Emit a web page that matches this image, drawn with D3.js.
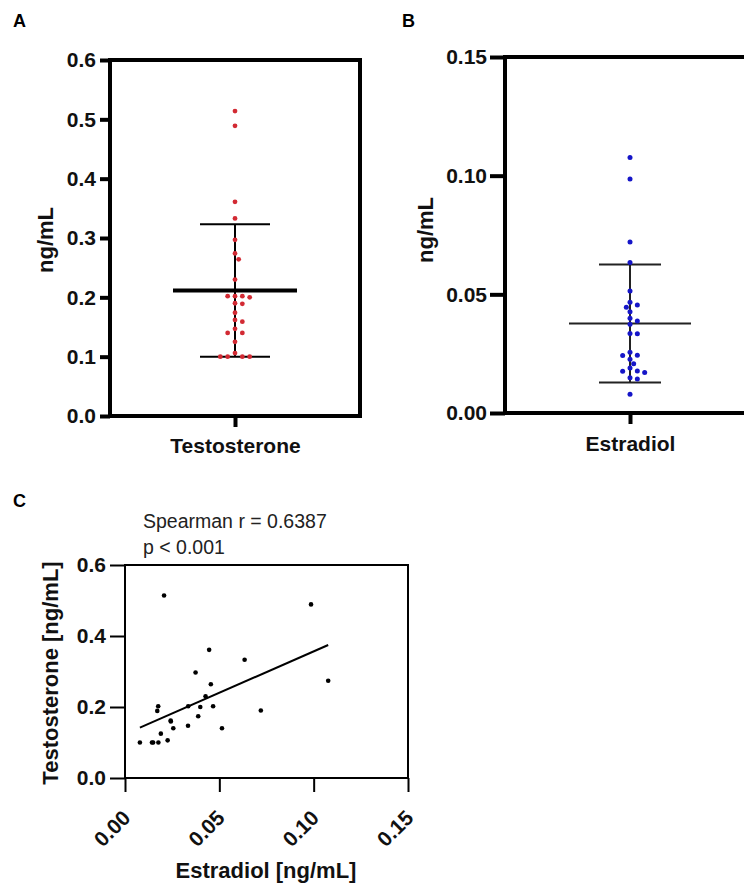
<!DOCTYPE html>
<html>
<head>
<meta charset="utf-8">
<script src="https://cdn.jsdelivr.net/npm/d3@7"></script>
<style>
body { margin: 0; background: #fff; }
svg { display: block; font-family: "Liberation Sans", Arial, sans-serif; }
</style>
</head>
<body>
<svg width="744" height="886"></svg>
<script>
// one value per subject, same order in both arrays (panel C pairs them)
var testosterone = [0.514, 0.489, 0.361, 0.333, 0.297, 0.274, 0.264, 0.230, 0.202, 0.189, 0.202, 0.200, 0.202,
                    0.190, 0.174, 0.162, 0.159, 0.147, 0.140, 0.140, 0.125, 0.106, 0.100, 0.100, 0.100, 0.100]
var estradiol = [0.0207, 0.0986, 0.0446, 0.0634, 0.0374, 0.1077, 0.0455, 0.0427, 0.0176, 0.0171, 0.0335, 0.0399, 0.0467,
                 0.0720, 0.0388, 0.0242, 0.0243, 0.0334, 0.0256, 0.0514, 0.0190, 0.0226, 0.0079, 0.0149, 0.0177, 0.0143]

var tTicks = [0, 0.1, 0.2, 0.3, 0.4, 0.5, 0.6]
var eTicks = [0, 0.05, 0.10, 0.15]
var cYTicks = [0, 0.2, 0.4, 0.6]
var cXTicks = [0, 0.05, 0.10, 0.15]
var statLines = ["Spearman r = 0.6387", "p < 0.001"]

var svg = d3.select("svg")

// simple beeswarm: offsets in half-steps, first free slot wins
function swarm(vals, y, step, minDist) {
    var placed = []
    var off = new Array(vals.length)
    var order = d3.range(vals.length).sort((a, b) => vals[b] - vals[a])
    order.forEach(i => {
        var py = y(vals[i])
        for (var k = 0; k < 60; k++) {
            var dx = (k % 2 ? 1 : -1) * Math.ceil(k / 2) * step
            if (placed.every(p => Math.hypot(p.x - dx, p.y - py) >= minDist)) {
                off[i] = dx
                placed.push({x: dx, y: py})
                break
            }
        }
    })
    return off
}

function dotPanel(o) {
    var g = svg.append("g")
    var y = d3.scaleLinear().domain([0, d3.max(o.ticks)]).range([o.bottom, o.top])
    var x = d3.scalePoint().domain([o.name]).range([o.left, o.right]).padding(0.5)
    var cx = x(o.name)

    g.append("rect")
        .attr("x", o.left).attr("y", o.top)
        .attr("width", o.right - o.left).attr("height", o.bottom - o.top)
        .attr("fill", "none").attr("stroke", "#000").attr("stroke-width", 4)

    var ya = g.append("g")
        .attr("transform", "translate(" + o.left + ",0)")
        .call(d3.axisLeft(y).tickValues(o.ticks).tickFormat(d3.format(o.fmt)).tickSize(o.tickLen).tickPadding(o.pad))
    ya.select(".domain").remove()
    ya.selectAll("line").attr("stroke-width", 4)
    ya.selectAll("text").attr("font-size", 21).attr("font-weight", "bold").attr("fill", "#111")

    var xa = g.append("g")
        .attr("transform", "translate(0," + o.bottom + ")")
        .call(d3.axisBottom(x).tickSize(11).tickPadding(o.xPad))
    xa.select(".domain").remove()
    xa.selectAll("line").attr("stroke-width", 4)
    xa.selectAll("text").attr("font-size", 21).attr("font-weight", "bold").attr("fill", "#111")

    g.append("text")
        .attr("transform", "translate(" + o.labelX + "," + o.labelY + ") rotate(-90)")
        .attr("text-anchor", "middle")
        .attr("font-size", 22).attr("font-weight", "bold").attr("fill", "#111")
        .text("ng/mL")

    g.append("text")
        .attr("x", o.tagX).attr("y", 27)
        .attr("font-size", 18).attr("font-weight", "bold")
        .text(o.tag)

    var m = d3.mean(o.values), sd = d3.deviation(o.values)

    g.append("line")
        .attr("x1", cx).attr("x2", cx).attr("y1", y(m - sd)).attr("y2", y(m + sd))
        .attr("stroke", o.lineColor).attr("stroke-width", 2)
    g.selectAll(".cap").data([m - sd, m + sd]).enter().append("line")
        .attr("class", "cap")
        .attr("x1", cx - o.capW).attr("x2", cx + o.capW)
        .attr("y1", d => y(d)).attr("y2", d => y(d))
        .attr("stroke", o.lineColor).attr("stroke-width", 2)
    g.append("line")
        .attr("x1", cx - o.meanW).attr("x2", cx + o.meanW)
        .attr("y1", y(m)).attr("y2", y(m))
        .attr("stroke", o.lineColor).attr("stroke-width", o.meanStroke)

    var off = swarm(o.values, y, o.step, o.minDist)
    g.selectAll(".dot").data(o.values).enter().append("circle")
        .attr("class", "dot")
        .attr("cx", (d, i) => cx + off[i])
        .attr("cy", d => y(d))
        .attr("r", o.r)
        .attr("fill", o.color)
}

dotPanel({
    name: "Testosterone", values: testosterone, ticks: tTicks, fmt: ".1f",
    left: 110, right: 360, top: 60, bottom: 416, tickLen: 10, pad: 4, xPad: 11,
    labelX: 53, labelY: 240, tag: "A", tagX: 13,
    color: "#d22a33", lineColor: "#000", meanW: 62, capW: 35, meanStroke: 4,
    step: 3.67, minDist: 6, r: 2.4
})

dotPanel({
    name: "Estradiol", values: estradiol, ticks: eTicks, fmt: ".2f",
    left: 505, right: 755, top: 57, bottom: 413, tickLen: 15, pad: 3, xPad: 12,
    labelX: 433, labelY: 230, tag: "B", tagX: 402,
    color: "#1515c8", lineColor: "#222", meanW: 61, capW: 31, meanStroke: 2,
    step: 3.67, minDist: 5.2, r: 2.5
})

// panel C: scatter with linear fit
var gc = svg.append("g")
var xC = d3.scaleLinear().domain([0, 0.15]).range([125, 408])
var yC = d3.scaleLinear().domain([0, 0.6]).range([778, 565])

gc.append("rect")
    .attr("x", 125).attr("y", 565).attr("width", 283).attr("height", 213)
    .attr("fill", "none").attr("stroke", "#000").attr("stroke-width", 2)

var yAx = gc.append("g").attr("transform", "translate(125,0)")
    .call(d3.axisLeft(yC).tickValues(cYTicks).tickFormat(d3.format(".1f")).tickSize(15).tickPadding(4))
yAx.select(".domain").remove()
yAx.selectAll("line").attr("stroke-width", 2)
yAx.selectAll("text").attr("font-size", 21).attr("font-weight", "bold").attr("fill", "#111")

var xAx = gc.append("g").attr("transform", "translate(0,778)")
    .call(d3.axisBottom(xC).tickValues(cXTicks).tickFormat(d3.format(".2f")).tickSize(14))
xAx.select(".domain").remove()
xAx.selectAll("line").attr("stroke-width", 2)
xAx.selectAll("text")
    .attr("font-size", 21).attr("font-weight", "bold").attr("fill", "#111")
    .attr("x", 0).attr("y", 0).attr("dy", "0.35em")
    .attr("text-anchor", "end")
    .attr("transform", "translate(1,36) rotate(-45)")

gc.append("text")
    .attr("transform", "translate(58,673) rotate(-90)")
    .attr("text-anchor", "middle")
    .attr("font-size", 22).attr("font-weight", "bold").attr("fill", "#111")
    .text("Testosterone [ng/mL]")

gc.append("text")
    .attr("x", 266).attr("y", 878)
    .attr("text-anchor", "middle")
    .attr("font-size", 22).attr("font-weight", "bold").attr("fill", "#111")
    .text("Estradiol [ng/mL]")

gc.append("text").attr("x", 13).attr("y", 507)
    .attr("font-size", 18).attr("font-weight", "bold").text("C")

gc.selectAll(".stat").data(statLines).enter().append("text")
    .attr("class", "stat")
    .attr("x", 143).attr("y", (d, i) => 528 + i * 26)
    .attr("font-size", 19.5).attr("fill", "#222")
    .text(d => d)

// least squares fit over the observed estradiol range
var pairs = estradiol.map((e, i) => [e, testosterone[i]])
var mE = d3.mean(estradiol), mT = d3.mean(testosterone)
var slope = d3.sum(pairs, p => (p[0] - mE) * (p[1] - mT)) / d3.sum(pairs, p => (p[0] - mE) * (p[0] - mE))
var icpt = mT - slope * mE
var ext = d3.extent(estradiol)
gc.append("line")
    .attr("x1", xC(ext[0])).attr("y1", yC(icpt + slope * ext[0]))
    .attr("x2", xC(ext[1])).attr("y2", yC(icpt + slope * ext[1]))
    .attr("stroke", "#000").attr("stroke-width", 2)

gc.selectAll(".pt").data(pairs).enter().append("circle")
    .attr("class", "pt")
    .attr("cx", d => xC(d[0]))
    .attr("cy", d => yC(d[1]))
    .attr("r", 2.3)
    .attr("fill", "#000")
</script>
</body>
</html>
